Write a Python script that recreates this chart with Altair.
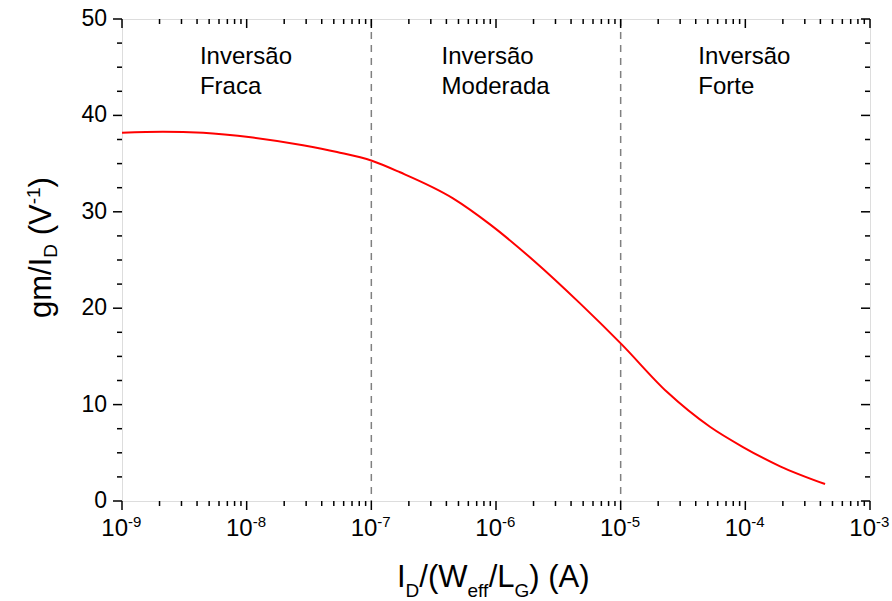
import altair as alt
import pandas as pd

# ---- data ----
current = [1e-9, 2.13e-9, 4.47e-9, 1.12e-8, 2.83e-8, 5.31e-8, 1.01e-7, 1.70e-7,
           4.52e-7, 8.95e-7, 1.98e-6, 4.72e-6, 1.01e-5, 2.36e-5, 5.20e-5,
           9.57e-5, 1.90e-4, 4.36e-4]
gm_id = [38.2, 38.3, 38.2, 37.7, 36.9, 36.2, 35.3, 34.1,
         31.4, 28.7, 25.0, 20.5, 16.3, 11.3, 7.7,
         5.6, 3.6, 1.76]

x_major = [1e-9, 1e-8, 1e-7, 1e-6, 1e-5, 1e-4, 1e-3]
x_exp = ["-9", "-8", "-7", "-6", "-5", "-4", "-3"]
y_major = [0, 10, 20, 30, 40, 50]
y_minor = [2.5, 5, 7.5, 12.5, 15, 17.5, 22.5, 25, 27.5, 32.5, 35, 37.5,
           42.5, 45, 47.5]
region_bounds = [1e-7, 1e-5]
region_line1 = ["Inversão", "Inversão", "Inversão"]
region_line2 = ["Fraca", "Moderada", "Forte"]
region_x = [4.22e-9, 3.66e-7, 4.2e-5]

FONT = "Liberation Sans"
W, H = 748, 482

x_minor = [k * 10.0 ** e for e in range(-9, -3) for k in range(2, 10)]

xs = alt.Scale(type="log", domain=[1e-9, 1e-3])
ys = alt.Scale(domain=[0, 50])
X = alt.X("x:Q", scale=xs, axis=None)
Y = alt.Y("y:Q", scale=ys, axis=None)

curve_df = pd.DataFrame({"x": current, "y": gm_id})
xmaj_df = pd.DataFrame({"x": x_major, "exp": x_exp})
xmin_df = pd.DataFrame({"x": x_minor})
ymaj_df = pd.DataFrame({"y": y_major, "lab": [str(v) for v in y_major]})
ymin_df = pd.DataFrame({"y": y_minor})
vline_df = pd.DataFrame({"x": region_bounds})
reg_df = pd.DataFrame({
    "x": region_x * 2,
    "y": [45.38] * 3 + [42.2] * 3,
    "t": region_line1 + region_line2,
})

layers = []

# dashed region boundaries
layers.append(alt.Chart(vline_df).mark_rule(color="#808080", strokeWidth=1.5,
                                            strokeDash=[7, 6]).encode(x=X))

# curve
layers.append(alt.Chart(curve_df).mark_line(color="#ff0000", strokeWidth=2,
                                            interpolate="monotone").encode(x=X, y=Y))

# region labels
layers.append(alt.Chart(reg_df).mark_text(align="left", baseline="alphabetic",
                                          fontSize=24, font=FONT, color="black")
              .encode(x=X, y=Y, text="t:N"))

tick = dict(color="black", strokeWidth=1.5)
# bottom ticks (outward)
layers.append(alt.Chart(xmaj_df).mark_rule(**tick).encode(x=X, y=alt.value(H), y2=alt.value(H + 9)))
layers.append(alt.Chart(xmin_df).mark_rule(**tick).encode(x=X, y=alt.value(H), y2=alt.value(H + 5)))
# top ticks (inward)
layers.append(alt.Chart(xmaj_df).mark_rule(**tick).encode(x=X, y=alt.value(0), y2=alt.value(9)))
layers.append(alt.Chart(xmin_df).mark_rule(**tick).encode(x=X, y=alt.value(0), y2=alt.value(5)))
# left ticks (outward)
layers.append(alt.Chart(ymaj_df).mark_rule(**tick).encode(y=Y, x=alt.value(0), x2=alt.value(-9)))
layers.append(alt.Chart(ymin_df).mark_rule(**tick).encode(y=Y, x=alt.value(0), x2=alt.value(-5)))
# right ticks (inward)
layers.append(alt.Chart(ymaj_df).mark_rule(**tick).encode(y=Y, x=alt.value(W), x2=alt.value(W - 9)))
layers.append(alt.Chart(ymin_df).mark_rule(**tick).encode(y=Y, x=alt.value(W), x2=alt.value(W - 5)))

# y tick labels
layers.append(alt.Chart(ymaj_df).mark_text(align="right", baseline="middle", fontSize=23,
                                           font=FONT, color="black")
              .encode(y=Y, x=alt.value(-15), text="lab:N"))
# x tick labels 10^n
layers.append(alt.Chart(xmaj_df).mark_text(text="10", align="right", baseline="alphabetic",
                                           fontSize=24, font=FONT, color="black", dx=6)
              .encode(x=X, y=alt.value(517)))
layers.append(alt.Chart(xmaj_df).mark_text(align="left", baseline="alphabetic",
                                           fontSize=15, font=FONT, color="black", dx=6)
              .encode(x=X, y=alt.value(508), text="exp:N"))

# ---- axis titles with sub/superscripts ----
WID = {"I": 278, "D": 722, "/": 278, "(": 333, "W": 944, "e": 556, "f": 278, "L": 556,
       "G": 778, ")": 333, " ": 278, "A": 667, "g": 556, "m": 833, "V": 667, "-": 333,
       "1": 556}


def tw(s, size):
    return sum(WID.get(c, 556) for c in s) * size / 1000.0


MAIN, SMALL = 31, 19


def one(text, size, x, y, angle=0):
    kw = dict(text=text, fontSize=size, font=FONT, color="black", align="left",
              baseline="alphabetic")
    if angle:
        kw["angle"] = angle
    return alt.Chart(alt.Data(values=[{}])).mark_text(**kw).encode(
        x=alt.value(x), y=alt.value(y))


# x title: I_D/(W_eff/L_G) (A)   ("gap" entries are pure spacing)
xt = [("I", "m"), ("D", "s"), ("/(W", "m"), ("eff", "s"), ("/L", "m"), ("G", "s"),
      (")", "m"), (" ", "gap"), ("(A)", "m")]
cx = 397 - 122
for t, k in xt:
    size = SMALL if k == "s" else MAIN
    if k != "gap":
        y = 568 if k == "m" else 578
        layers.append(one(t, size, cx, y))
    cx += tw(t, size)

# y title: gm/I_D (V^-1), rotated
yt = [("gm/I", "m"), ("D", "s"), (" ", "gap"), ("(V", "m"), ("-1", "p"), (")", "m")]
cy = 318 - 19
for t, k in yt:
    size = MAIN if k in ("m", "gap") else SMALL
    if k != "gap":
        x = {"m": 51, "s": 57, "p": 40}[k] - 122
        layers.append(one(t, size, x, cy, angle=270))
    cy -= tw(t, size)

chart = alt.layer(*layers).properties(
    width=W, height=H,
    autosize=alt.AutoSizeParams(type="none"),
    padding={"left": 122, "top": 19, "right": 22, "bottom": 100},
).configure_view(stroke="black", strokeWidth=1.8).configure(background="white")

chart.save("out.html", embed_options={"renderer": "svg", "actions": False})
